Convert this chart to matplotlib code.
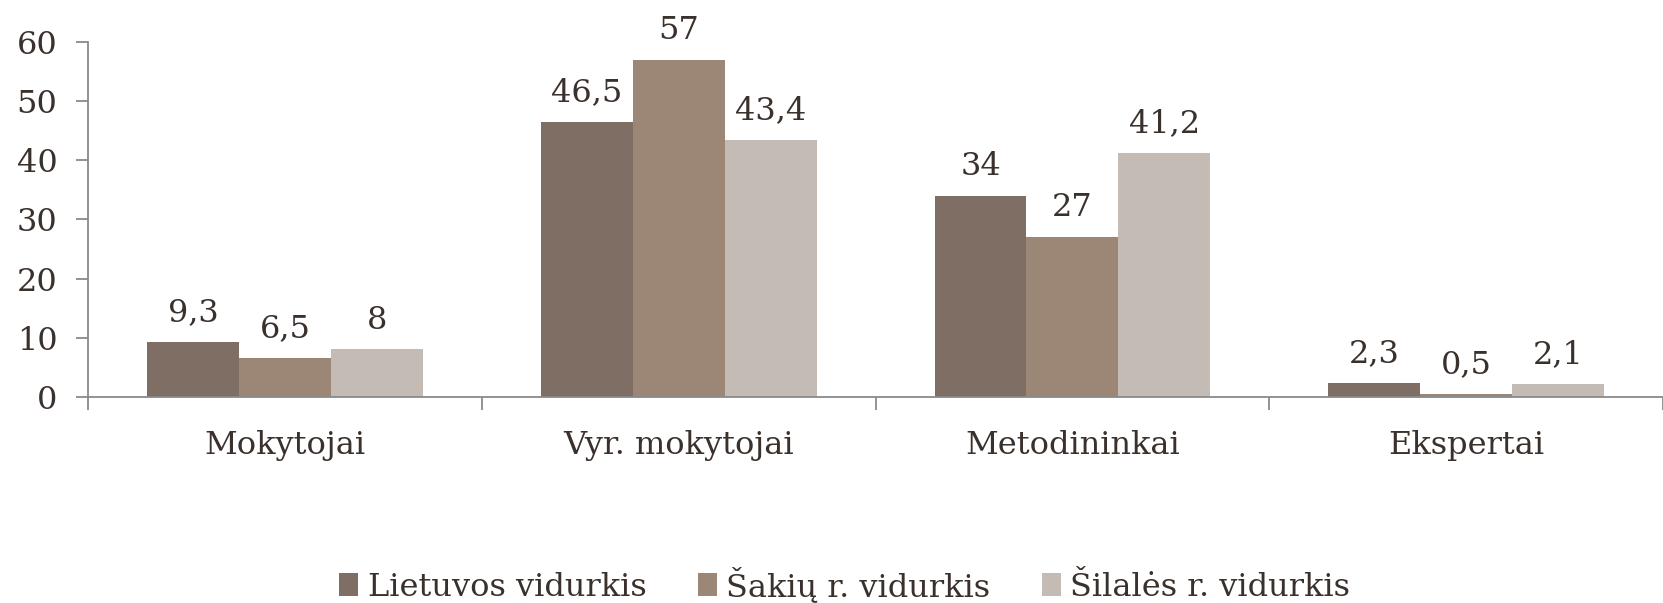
import numpy as np
import matplotlib.pyplot as plt

# === Дані ===
categories = ['Mokytojai', 'Vyr. mokytojai', 'Metodininkai', 'Ekspertai']
series_names = ['Lietuvos vidurkis', 'Šakių r. vidurkis', 'Šilalės r. vidurkis']
lietuvos = [9.3, 46.5, 34, 2.3]
sakiu = [6.5, 57, 27, 0.5]
silales = [8, 43.4, 41.2, 2.1]
colors = ['#7f6e63', '#9c8777', '#c5bbb5']

plt.rcParams['font.family'] = ['DejaVu Serif']
text_color = '#3b312c'
axis_color = '#8a8a8a'
fs = 23

fig = plt.figure(figsize=(16.63, 6.03), dpi=100)
ax = fig.add_axes([0.053, 0.342, 0.947, 0.588])

x = np.arange(len(categories)) + 0.5
w = 0.7 / 3
for i, (vals, name, c) in enumerate(zip([lietuvos, sakiu, silales], series_names, colors)):
    bars = ax.bar(x + (i - 1) * w, vals, width=w, color=c, label=name)
    for b, v in zip(bars, vals):
        lbl = ('%g' % v).replace('.', ',')
        ax.annotate(lbl, (b.get_x() + b.get_width() / 2, v), xytext=(0, 10),
                    textcoords='offset points', ha='center', va='bottom',
                    fontsize=fs, color=text_color)

ax.set_xlim(0, 4)
ax.set_ylim(0, 60)
ax.set_yticks(range(0, 61, 10))
ax.set_xticks(x)
ax.set_xticklabels(categories)
ax.set_xticks(np.arange(0, 5), minor=True)
ax.tick_params(axis='x', which='major', length=0, pad=24, labelsize=fs, labelcolor=text_color)
ax.tick_params(axis='x', which='minor', length=9, color=axis_color, width=1.3)
ax.tick_params(axis='y', length=9, color=axis_color, width=1.3, pad=13,
               labelsize=fs, labelcolor=text_color)
for s in ['top', 'right']:
    ax.spines[s].set_visible(False)
for s in ['left', 'bottom']:
    ax.spines[s].set_color(axis_color)
    ax.spines[s].set_linewidth(1.3)

leg = fig.legend(loc='center', bbox_to_anchor=(0.508, 0.03), ncol=3, frameon=False,
                 fontsize=fs, handlelength=0.6, handleheight=0.7, handletextpad=0.3,
                 columnspacing=1.6)
for t in leg.get_texts():
    t.set_color(text_color)

fig.savefig('out.png', dpi=100)
